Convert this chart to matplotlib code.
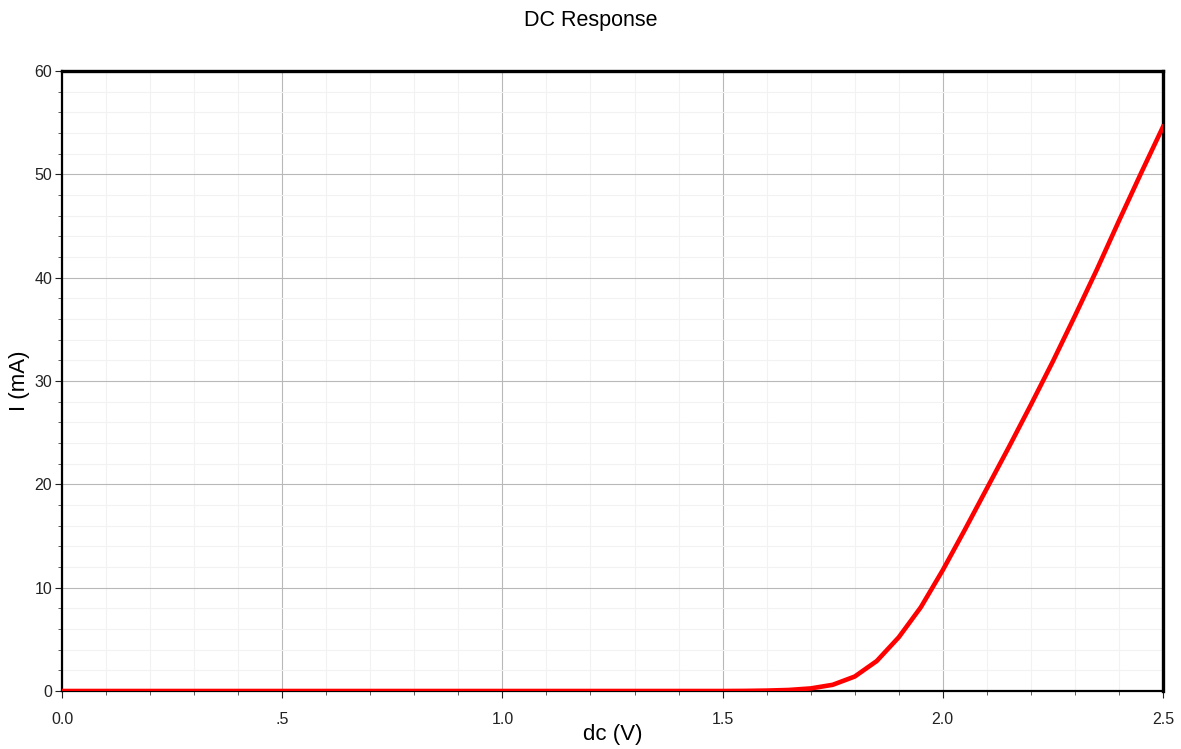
import numpy as np
import matplotlib
matplotlib.use("Agg")
import matplotlib.pyplot as plt
from matplotlib.ticker import MultipleLocator

plt.rcParams['font.family'] = ['Liberation Sans', 'DejaVu Sans']

# sweep voltage (V) and current (mA)
vdc = [0.0, 0.5, 1.0, 1.5, 1.55, 1.6, 1.65, 1.7, 1.75, 1.8, 1.85, 1.9, 1.95,
       2.0, 2.05, 2.1, 2.15, 2.2, 2.25, 2.3, 2.35, 2.4, 2.45, 2.5]
i_ma = [0.0, 0.0, 0.0, 0.0, 0.01, 0.04, 0.1, 0.25, 0.6, 1.4, 2.9, 5.2, 8.1,
        11.7, 15.6, 19.6, 23.6, 27.7, 31.9, 36.3, 40.8, 45.5, 50.1, 54.6]

xticks = [0.0, 0.5, 1.0, 1.5, 2.0, 2.5]
xlabels = ["0.0", ".5", "1.0", "1.5", "2.0", "2.5"]
yticks = [0, 10, 20, 30, 40, 50, 60]

fig = plt.figure(figsize=(11.81, 7.49), dpi=100)
ax = fig.add_axes([62/1181, 1 - 691/749, 1101/1181, 620/749])

ax.plot(vdc, i_ma, color='#ff0000', lw=3.3, solid_joinstyle='round', zorder=3)

ax.set_xlim(0, 2.5)
ax.set_ylim(0, 60)
ax.set_xticks(xticks)
ax.set_xticklabels(xlabels)
ax.set_yticks(yticks)
ax.xaxis.set_minor_locator(MultipleLocator(0.1))
ax.yaxis.set_minor_locator(MultipleLocator(2))

ax.grid(which='major', color='#b8b8b8', lw=0.8)
ax.grid(which='minor', color='#f2f2f2', lw=0.8)
ax.set_axisbelow(True)

ax.tick_params(which='major', direction='out', length=5, width=0.8,
               labelsize=11.5, pad=10, colors='#222222')
ax.tick_params(axis='y', which='major', pad=2)
ax.tick_params(which='minor', direction='out', length=3, width=0.6, color='#444444')

ax.spines['left'].set_linewidth(1.6)
ax.spines['bottom'].set_linewidth(1.6)
ax.spines['top'].set_linewidth(2.4)
ax.spines['right'].set_linewidth(2.4)

ax.set_xlabel("dc (V)", fontsize=16, labelpad=-2)
ax.set_ylabel("I (mA)", fontsize=16, labelpad=3)
fig.suptitle("DC Response", fontsize=15.5, y=0.987)

fig.savefig("out.png", dpi=100)
